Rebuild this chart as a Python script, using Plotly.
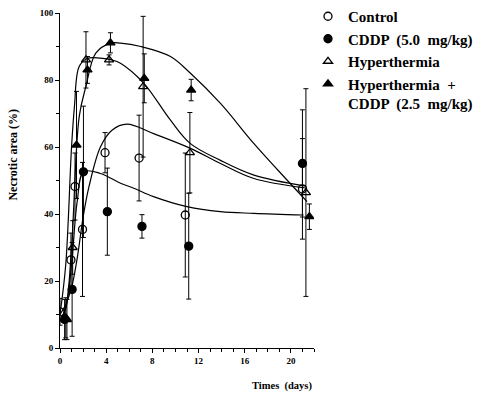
import plotly.graph_objects as go

# ---- measured points (time in days, necrotic area %) ----
ctrl_t = [0.0, 0.95, 1.3, 1.95, 3.9, 6.85, 10.85, 21.0]
ctrl_v = [10.8, 26.3, 48.2, 35.4, 58.3, 56.7, 39.7, 47.5]
ctrl_e = [4.0, 8.0, 10.0, 20.0, 6.0, 12.8, 18.5, 15.0]

cddp_t = [0.4, 1.05, 2.03, 4.1, 7.1, 11.15, 21.0]
cddp_v = [8.5, 17.5, 52.6, 40.7, 36.3, 30.4, 55.1]
cddp_e = [6.0, 14.0, 19.6, 13.0, 3.5, 15.8, 16.0]

hyp_t = [0.5, 1.1, 2.25, 4.25, 7.2, 11.25, 21.3]
hyp_v = [9.0, 30.0, 86.0, 86.0, 78.0, 58.3, 46.4]
hyp_e = [6.0, 8.0, 8.4, 1.5, 21.0, 12.0, 31.0]

hc_t = [0.6, 1.43, 2.38, 4.37, 7.3, 11.36, 21.6]
hc_v = [8.5, 60.6, 83.0, 91.1, 80.5, 77.0, 39.2]
hc_e = [6.0, 16.0, 4.0, 3.0, 7.3, 3.2, 3.8]

# ---- fitted curves ----
ctrl_ct = [0, 0.5, 1, 1.5, 2, 2.5, 3.5, 4.5, 5.8, 8.1, 11.3, 13.9, 16.8, 21.2]
ctrl_cv = [10, 13, 18, 27, 39, 48, 60, 65, 66.8, 64, 59.6, 55.1, 50.6, 47.8]

cddp_ct = [0, 0.5, 1, 1.5, 2.05, 3.5, 5.24, 6.4, 8.1, 11.0, 13.9, 16.8, 21.1]
cddp_cv = [8, 12, 25, 44, 52.6, 52.1, 49.2, 47.7, 45.2, 42.2, 40.7, 40.2, 39.7]

hyp_ct = [0, 0.5, 1, 1.25, 1.66, 2.4, 3.5, 4.5, 5.24, 7.26, 9.57, 11.3, 13.9, 16.8, 21.3]
hyp_cv = [10, 25, 60, 72, 84, 86.5, 86.5, 86, 85, 79, 68, 61, 56, 51.6, 48.3]

hc_ct = [0, 0.5, 1, 1.66, 2.24, 3.1, 4.4, 5.24, 7, 9.57, 11.3, 13.9, 16.8, 19.7, 21.4]
hc_cv = [8, 12, 30, 69, 78, 88, 91, 91, 90, 87, 82, 73, 61, 50, 43.7]

x_ticks = [0, 4, 8, 12, 16, 20]
y_ticks = [0, 20, 40, 60, 80, 100]

fig = go.Figure()

for ct, cv in [(ctrl_ct, ctrl_cv), (cddp_ct, cddp_cv), (hyp_ct, hyp_cv), (hc_ct, hc_cv)]:
    fig.add_trace(go.Scatter(x=ct, y=cv, mode="lines", line=dict(color="black", width=1.2, shape="spline", smoothing=1.0),
                             showlegend=False, hoverinfo="skip"))

series = [
    ("Control", ctrl_t, ctrl_v, ctrl_e, "circle-open"),
    ("CDDP  (5.0  mg/kg)", cddp_t, cddp_v, cddp_e, "circle"),
    ("Hyperthermia", hyp_t, hyp_v, hyp_e, "triangle-up-open"),
    ("Hyperthermia  +<br>CDDP  (2.5  mg/kg)", hc_t, hc_v, hc_e, "triangle-up"),
]
for i, (name, t, v, e, sym) in enumerate(series):
    fig.add_trace(go.Scatter(
        x=t, y=v, mode="markers", name=name, legendgroup=f"g{i}",
        marker=dict(symbol=sym, size=8, color="black", line=dict(color="black", width=1.3)),
        error_y=dict(type="data", array=e, visible=True, color="black", thickness=1, width=2.5),
    ))

tickfont = dict(family="Liberation Serif", size=9, color="black", weight="bold")
fig.update_layout(
    width=484, height=394,
    margin=dict(l=59.5, r=170, t=13, b=46, autoexpand=False),
    paper_bgcolor="white", plot_bgcolor="white",
    xaxis=dict(range=[0, 22], tickvals=x_ticks, ticks="outside", ticklen=4, tickwidth=1, tickcolor="black",
               showline=True, linecolor="black", linewidth=1, showgrid=False, zeroline=False,
               tickfont=tickfont,
               minor=dict(dtick=1, ticks="outside", ticklen=3, tickcolor="black", tickwidth=1)),
    yaxis=dict(range=[0, 100], tickvals=y_ticks, ticks="outside", ticklen=4, tickwidth=1, tickcolor="black",
               showline=True, linecolor="black", linewidth=1, showgrid=False, zeroline=False,
               tickfont=tickfont,
               minor=dict(dtick=10, ticks="outside", ticklen=3, tickcolor="black", tickwidth=1)),
    legend=dict(xref="container", yref="container", x=308/484, xanchor="left", y=1.008, yanchor="top",
                bgcolor="rgba(0,0,0,0)",
                font=dict(family="Liberation Serif", size=15, color="black", weight="bold"),
                valign="top", traceorder="grouped", tracegroupgap=0),
    showlegend=True,
)
fig.add_annotation(text="Necrotic area (%)", xref="paper", yref="paper", x=-0.183, y=0.576,
                   textangle=-90, showarrow=False, xanchor="center", yanchor="middle",
                   font=dict(family="Liberation Serif", size=12, color="black", weight="bold"))
fig.add_annotation(text="Times  (days)", xref="paper", yref="paper", x=1.0, y=-0.113,
                   showarrow=False, xanchor="right", yanchor="middle",
                   font=dict(family="Liberation Serif", size=10.5, color="black", weight="bold"))

fig.write_html("out.html")
